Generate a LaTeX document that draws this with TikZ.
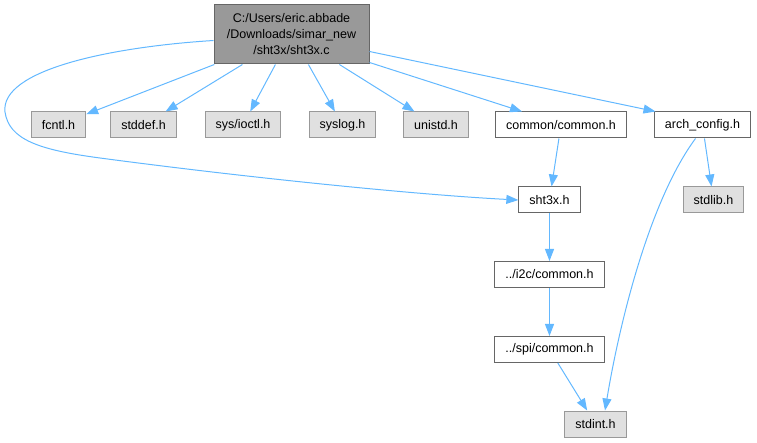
\documentclass[tikz,border=0pt]{standalone}
\usepackage{fontspec}
\setmainfont{Liberation Sans}
\usetikzlibrary{arrows.meta}
\definecolor{edgeblue}{HTML}{63B8FF}
\definecolor{sysfill}{HTML}{E0E0E0}
\definecolor{sysdraw}{HTML}{999999}
\definecolor{filedraw}{HTML}{666666}
\definecolor{rootfill}{HTML}{999999}
\begin{document}
\begin{tikzpicture}[x=1pt,y=-1pt,
    font=\fontsize{12.5}{16}\selectfont,
    hdr/.style={draw=filedraw,fill=white,line width=1pt,minimum height=26pt,
      inner xsep=10.5pt,inner ysep=0pt},
    syshdr/.style={hdr,draw=sysdraw,fill=sysfill},
    inc/.style={draw=edgeblue,line width=1pt,
      -{Triangle[length=12pt,width=9pt,fill=edgeblue]}}]
  \useasboundingbox (0,0) rectangle (757,443);
  % source file
  \node[hdr,fill=rootfill,minimum width=155pt,minimum height=59pt,align=center]
      (main) at (291.5,34.5) {C:/Users/eric.abbade\\/Downloads/simar\_new\\/sht3x/sht3x.c};
  % first row
  \node[syshdr] (fcntl)  at (58.5,125)  {fcntl.h};
  \node[syshdr] (stddef) at (143.5,125) {stddef.h};
  \node[syshdr] (ioctl)  at (243,125)   {sys/ioctl.h};
  \node[syshdr] (syslog) at (342.5,125) {syslog.h};
  \node[syshdr] (unistd) at (436,125)   {unistd.h};
  \node[hdr]    (common) at (561,125)   {common/common.h};
  \node[hdr]    (arch)   at (702.5,125) {arch\_config.h};
  % lower rows
  \node[hdr]    (sht)    at (549.5,200) {sht3x.h};
  \node[syshdr] (stdlib) at (713.5,200) {stdlib.h};
  \node[hdr]    (i2c)    at (549.5,274.5) {../i2c/common.h};
  \node[hdr]    (spi)    at (549.5,349.5) {../spi/common.h};
  \node[syshdr] (stdint) at (595.5,424) {stdint.h};
  % includes
  \draw[inc] (main) -- (fcntl);
  \draw[inc] (main) -- (stddef);
  \draw[inc] (main) -- (ioctl);
  \draw[inc] (main) -- (syslog);
  \draw[inc] (main) -- (unistd);
  \draw[inc] ([yshift=2pt]main.south east) -- ([xshift=-39pt]common.north);
  \draw[inc] ([yshift=13pt]main.south east) -- ([xshift=-47pt]arch.north);
  \draw[inc] ([yshift=-6pt]main.west) .. controls (110,47) and (0,70) .. (5,112)
      .. controls (9,140) and (40,150) .. (100,158)
      .. controls (250,178) and (420,195) .. (sht.west);
  \draw[inc] (common) -- (sht);
  \draw[inc] (arch) -- (stdlib);
  \draw[inc] ([xshift=-7pt]arch.south) .. controls (650,200) and (620,320)
      .. ([xshift=9.5pt]stdint.north);
  \draw[inc] (sht) -- (i2c);
  \draw[inc] (i2c) -- (spi);
  \draw[inc] (spi) -- (stdint);
\end{tikzpicture}
\end{document}
